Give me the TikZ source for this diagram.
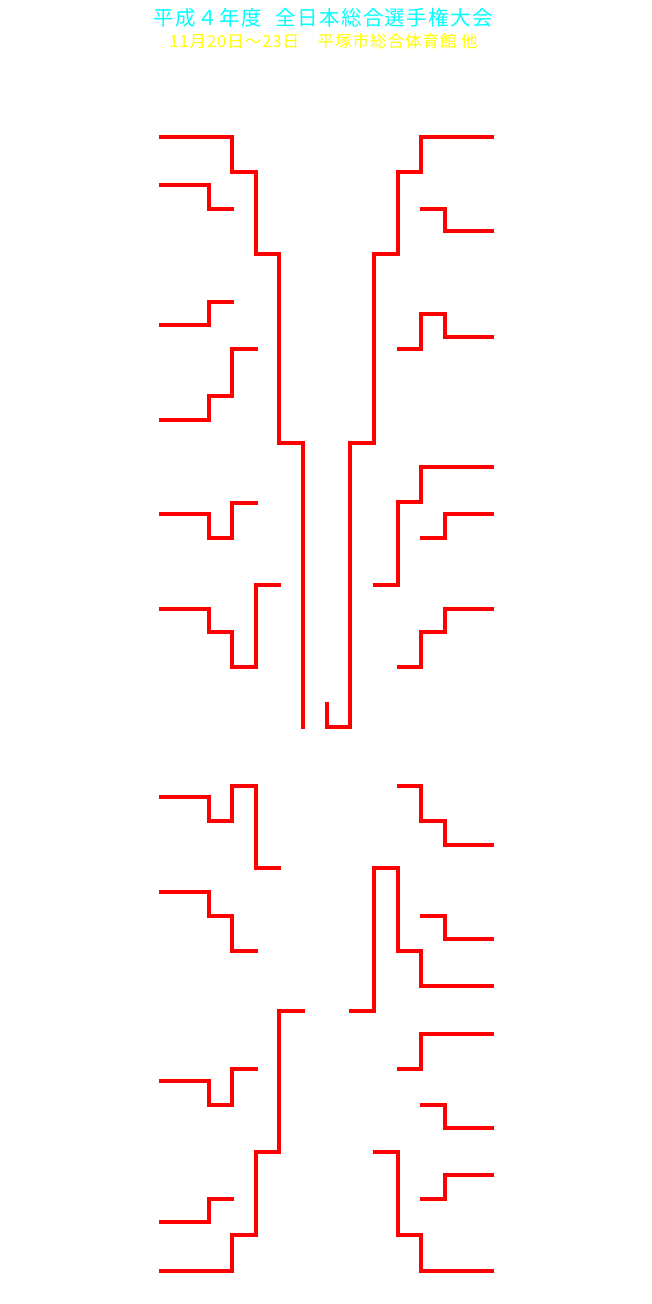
\documentclass[tikz,border=0pt]{standalone}
\usepackage{fontspec}
\newfontfamily\jpfont{Noto Sans CJK JP}
\newfontfamily\jpfontwide[LetterSpace=7]{Noto Sans CJK JP}
\newfontfamily\jpfontwideB[LetterSpace=6]{Noto Sans CJK JP}
\definecolor{titlecyan}{RGB}{0,255,255}
\definecolor{titleyellow}{RGB}{255,255,0}
\tikzset{
  bracket/.style={draw=red, line width=3.2pt, line join=miter, line cap=butt},
  titleA/.style={text=titlecyan, font=\jpfontwide\fontsize{20.5}{22}\selectfont, inner sep=0pt},
  titleB/.style={text=titleyellow, font=\jpfontwideB\fontsize{16.5}{18}\selectfont, inner sep=0pt}
}
\begin{document}
\begin{tikzpicture}[x=1pt,y=-1pt]
\useasboundingbox (0,0) rectangle (651,1304);
\node[titleA] (t1) at (323.5,18) {平成４年度\hspace{0.35em} 全日本総合選手権大会};
\node[titleB] (t2) at (323.5,41) {11月20日～23日　平塚市総合体育館 他};
% ---- upper half, left
\draw[bracket] (159,137) -- (232,137) -- (232,172) -- (256,172) -- (256,254) -- (279,254) -- (279,443) -- (303,443) -- (303,729);
\draw[bracket] (159,185) -- (209,185) -- (209,209) -- (233.5,209);
\draw[bracket] (159,325) -- (209,325) -- (209,302) -- (233.5,302);
\draw[bracket] (159,420) -- (209,420) -- (209,396) -- (232,396) -- (232,349) -- (257.5,349);
\draw[bracket] (159,514) -- (209,514) -- (209,538) -- (232,538) -- (232,503) -- (257.5,503);
\draw[bracket] (159,609) -- (209,609) -- (209,632) -- (232,632) -- (232,667) -- (256,667) -- (256,585) -- (280.5,585);
% ---- centre
\draw[bracket] (327,702) -- (327,727) -- (350,727) -- (350,443) -- (374,443) -- (374,254) -- (398,254) -- (398,172) -- (421,172) -- (421,137) -- (494,137);
% ---- upper half, right
\draw[bracket] (419.5,209) -- (445,209) -- (445,231) -- (494,231);
\draw[bracket] (396.5,349) -- (421,349) -- (421,314) -- (445,314) -- (445,337) -- (494,337);
\draw[bracket] (372.5,585) -- (398,585) -- (398,502) -- (421,502) -- (421,467) -- (494,467);
\draw[bracket] (419.5,538) -- (445,538) -- (445,514) -- (494,514);
\draw[bracket] (396.5,667) -- (421,667) -- (421,632) -- (445,632) -- (445,609) -- (494,609);
% ---- lower half, left
\draw[bracket] (159,797) -- (209,797) -- (209,821) -- (232,821) -- (232,786) -- (256,786) -- (256,868) -- (280.5,868);
\draw[bracket] (159,892) -- (209,892) -- (209,916) -- (232,916) -- (232,951) -- (257.5,951);
\draw[bracket] (304.5,1011) -- (279,1011) -- (279,1152) -- (256,1152) -- (256,1235) -- (232,1235) -- (232,1271) -- (159,1271);
\draw[bracket] (159,1081) -- (209,1081) -- (209,1105) -- (232,1105) -- (232,1069) -- (257.5,1069);
\draw[bracket] (159,1222) -- (209,1222) -- (209,1199) -- (233.5,1199);
% ---- lower half, right
\draw[bracket] (396.5,786) -- (421,786) -- (421,821) -- (445,821) -- (445,845) -- (494,845);
\draw[bracket] (349,1011) -- (374,1011) -- (374,868) -- (398,868) -- (398,951) -- (421,951) -- (421,986) -- (494,986);
\draw[bracket] (419.5,916) -- (445,916) -- (445,939) -- (494,939);
\draw[bracket] (396.5,1069) -- (421,1069) -- (421,1034) -- (494,1034);
\draw[bracket] (419.5,1105) -- (445,1105) -- (445,1128) -- (494,1128);
\draw[bracket] (372.5,1152) -- (398,1152) -- (398,1235) -- (421,1235) -- (421,1271) -- (494,1271);
\draw[bracket] (419.5,1199) -- (445,1199) -- (445,1175) -- (494,1175);
\end{tikzpicture}
\end{document}
